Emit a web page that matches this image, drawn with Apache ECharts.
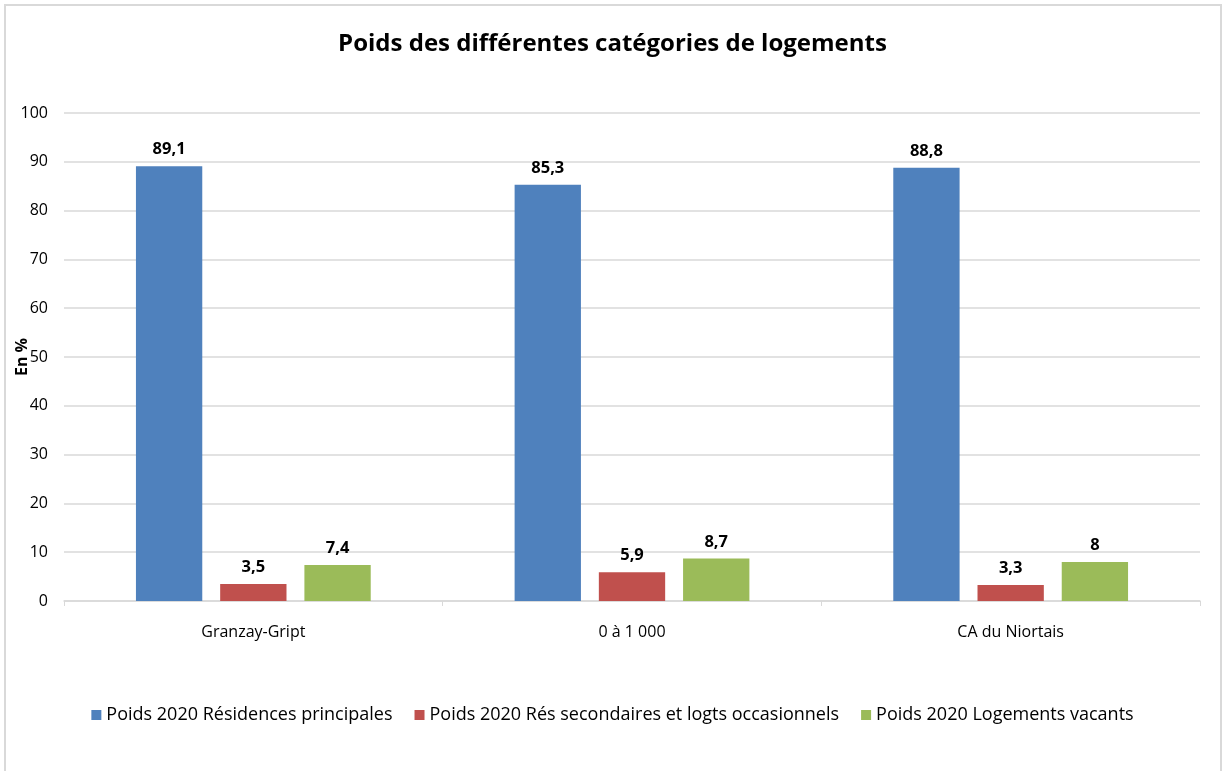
<!DOCTYPE html>
<html>
<head>
<meta charset="utf-8">
<script src="https://cdn.jsdelivr.net/npm/echarts@6/dist/echarts.min.js"></script>
<style>
html,body{margin:0;padding:0;background:#fff;}
#c{width:1225px;height:771px;}
</style>
</head>
<body>
<div id="c"></div>
<script>
const categories = ['Granzay-Gript', '0 à 1 000', 'CA du Niortais'];
const seriesNames = ['Poids 2020 Résidences principales', 'Poids 2020 Rés secondaires et logts occasionnels', 'Poids 2020 Logements vacants'];
const residencesPrincipales = [89.1, 85.3, 88.8];
const residencesSecondaires = [3.5, 5.9, 3.3];
const logementsVacants = [7.4, 8.7, 8];
const colors = ['#4f81bd', '#c0504d', '#9bbb59'];
const yTicks = { min: 0, max: 100, interval: 10 };

const font = '"Open Sans", "DejaVu Sans", sans-serif';
const chart = echarts.init(document.getElementById('c'), null, { renderer: 'canvas' });

function mkSeries(name, data, color) {
  return {
    name: name,
    type: 'bar',
    data: data,
    barGap: '27%',
    barCategoryGap: '38%',
    itemStyle: { color: color },
    label: {
      show: true,
      position: 'top',
      distance: 8,
      fontFamily: font,
      fontWeight: 'bold',
      fontSize: 16.5,
      color: '#000',
      formatter: p => String(p.value).replace('.', ',')
    }
  };
}

chart.setOption({
  animation: false,
  backgroundColor: '#fff',
  title: {
    text: 'Poids des différentes catégories de logements',
    left: 'center',
    top: 27,
    textStyle: { fontFamily: font, fontWeight: 'bold', fontSize: 24, color: '#000' }
  },
  graphic: [{
    type: 'rect',
    shape: { x: 5, y: 5, width: 1216, height: 780 },
    style: { fill: 'none', stroke: '#d9d9d9', lineWidth: 2 },
    silent: true
  }],
  legend: {
    bottom: 42,
    left: 'center',
    icon: 'rect',
    itemWidth: 10,
    itemHeight: 10,
    itemGap: 22,
    textStyle: { fontFamily: font, fontSize: 18, color: '#000' },
    data: seriesNames
  },
  grid: { left: 64, right: 25, top: 113, bottom: 170, containLabel: false, outerBoundsMode: 'none' },
  xAxis: {
    type: 'category',
    data: categories,
    axisLine: { lineStyle: { color: '#d9d9d9', width: 1.5 } },
    axisTick: { show: true, length: 5, lineStyle: { color: '#d9d9d9' } },
    axisLabel: { fontFamily: font, fontSize: 16, color: '#000', margin: 23 }
  },
  yAxis: {
    type: 'value',
    min: yTicks.min,
    max: yTicks.max,
    interval: yTicks.interval,
    name: 'En %',
    nameLocation: 'middle',
    nameGap: 34,
    nameRotate: 90,
    nameMoveOverlap: false,
    nameTextStyle: { fontFamily: font, fontWeight: 'bold', fontSize: 16, color: '#000' },
    axisLine: { show: false },
    axisTick: { show: false },
    axisLabel: { fontFamily: font, fontSize: 16, color: '#000', margin: 16 },
    splitLine: { lineStyle: { color: '#d9d9d9', width: 1.5 } }
  },
  series: [
    mkSeries(seriesNames[0], residencesPrincipales, colors[0]),
    mkSeries(seriesNames[1], residencesSecondaires, colors[1]),
    mkSeries(seriesNames[2], logementsVacants, colors[2])
  ]
});
</script>
</body>
</html>
